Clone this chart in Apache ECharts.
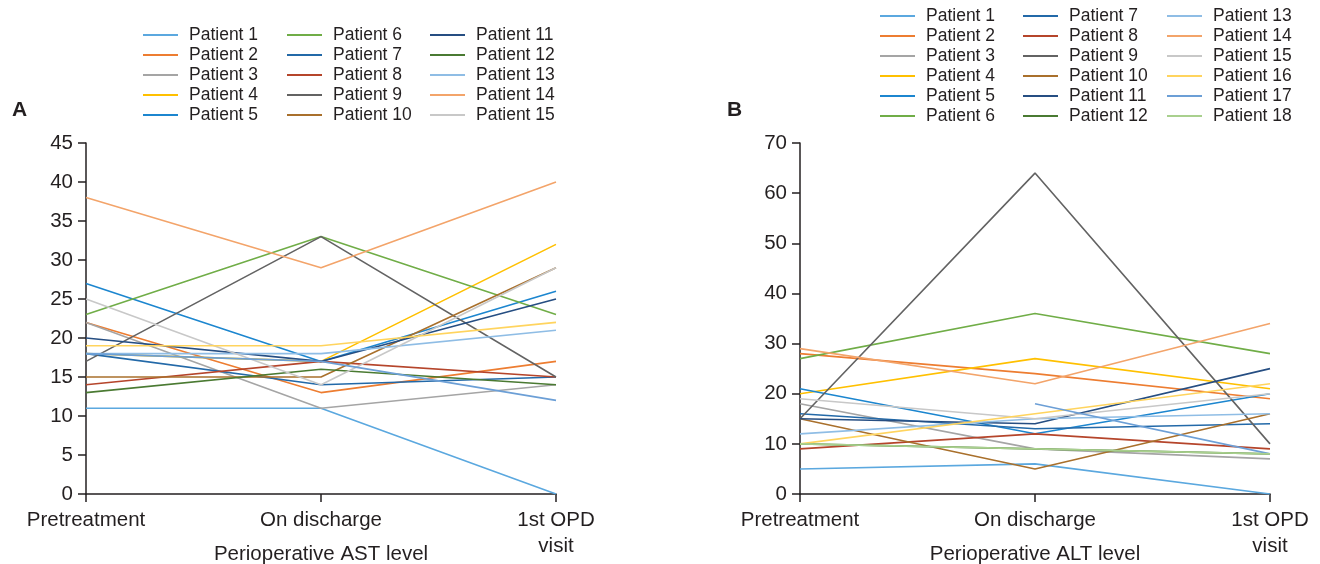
<!DOCTYPE html>
<html>
<head>
<meta charset="utf-8">
<script src="https://cdn.jsdelivr.net/npm/echarts@6/dist/echarts.min.js"></script>
<style>
html,body{margin:0;padding:0;background:#fff;}
#chart{width:1320px;height:564px;}
</style>
</head>
<body>
<div id="chart"></div>
<script>
const categories = ['Pretreatment', 'On discharge', '1st OPD\nvisit'];
const astTicks = [0, 5, 10, 15, 20, 25, 30, 35, 40, 45];
const altTicks = [0, 10, 20, 30, 40, 50, 60, 70];

const patientNames = ['Patient 1','Patient 2','Patient 3','Patient 4','Patient 5','Patient 6',
  'Patient 7','Patient 8','Patient 9','Patient 10','Patient 11','Patient 12',
  'Patient 13','Patient 14','Patient 15','Patient 16','Patient 17','Patient 18'];

const patientColors = ['#5BA8DF','#ED7D31','#A5A5A5','#FFC000','#1C86CF','#70AD47',
  '#2369A8','#B5452B','#636363','#A9702C','#264E82','#4A7A32',
  '#8FBDE5','#F3A46A','#C8C8C8','#FFD45E','#6C9FD6','#A9D08E'];

// Perioperative AST level (panel A)
const astValues = [
  [11, 11, 0],    // Patient 1
  [22, 13, 17],   // Patient 2
  [22, 11, 14],   // Patient 3
  [18, 17, 32],   // Patient 4
  [27, 17, 26],   // Patient 5
  [23, 33, 23],   // Patient 6
  [18, 14, 15],   // Patient 7
  [14, 17, 15],   // Patient 8
  [17, 33, 15],   // Patient 9
  [15, 15, 29],   // Patient 10
  [20, 17, 25],   // Patient 11
  [13, 16, 14],   // Patient 12
  [18, 18, 21],   // Patient 13
  [38, 29, 40],   // Patient 14
  [25, 14, 29],   // Patient 15
  [19, 19, 22],   // Patient 16 (not in legend)
  [18, 17, 12]    // Patient 17 (not in legend)
];
const astLegendCount = 15;

// Perioperative ALT level (panel B)
const altValues = [
  [5, 6, 0],      // Patient 1
  [28, 24, 19],   // Patient 2
  [18, 9, 7],     // Patient 3
  [20, 27, 21],   // Patient 4
  [21, 12, 20],   // Patient 5
  [27, 36, 28],   // Patient 6
  [16, 13, 14],   // Patient 7
  [9, 12, 9],     // Patient 8
  [15, 64, 10],   // Patient 9
  [15, 5, 16],    // Patient 10
  [15, 14, 25],   // Patient 11
  [10, 9, 8],     // Patient 12
  [12, 15, 16],   // Patient 13
  [29, 22, 34],   // Patient 14
  [19, 15, 20],   // Patient 15
  [10, 16, 22],   // Patient 16
  [null, 18, 8],  // Patient 17
  [10, 9, 8]      // Patient 18
];
const altLegendCount = 18;

const FONT = '"Liberation Sans", Arial, Helvetica, sans-serif';
const TXT = '#231f20';

function buildSeries(values, prefix, axisIndex) {
  return values.map((v, i) => ({
    id: prefix + i,
    name: patientNames[i],
    type: 'line',
    xAxisIndex: axisIndex,
    yAxisIndex: axisIndex,
    data: v,
    showSymbol: false,
    symbol: 'none',
    connectNulls: false,
    animation: false,
    lineStyle: { width: 1.6, color: patientColors[i] },
    itemStyle: { color: patientColors[i] },
    emphasis: { disabled: true }
  }));
}

function legendCol(names, left, top) {
  return {
    orient: 'vertical',
    left: left,
    top: top,
    padding: 0,
    itemGap: 0,
    itemWidth: 35,
    itemHeight: 2,
    icon: 'rect',
    selectedMode: false,
    data: names,
    textStyle: { fontFamily: FONT, fontSize: 17.5, color: TXT, lineHeight: 20, padding: [0, 0, 0, 6] }
  };
}

function xAx(gridIndex) {
  return {
    gridIndex: gridIndex,
    type: 'category',
    data: categories,
    boundaryGap: false,
    axisLine: { lineStyle: { color: TXT, width: 1.5 } },
    axisTick: { show: true, length: 8, lineStyle: { color: TXT, width: 1.5 } },
    axisLabel: { fontFamily: FONT, fontSize: 20.5, color: TXT, margin: 13, lineHeight: 26 },
    splitLine: { show: false },
    nameLocation: 'middle',
    nameGap: 50,
    nameMoveOverlap: false,
    nameTextStyle: { fontFamily: FONT, fontSize: 20.5, color: TXT }
  };
}

function yAx(gridIndex, ticks) {
  return {
    gridIndex: gridIndex,
    type: 'value',
    min: ticks[0],
    max: ticks[ticks.length - 1],
    interval: ticks[1] - ticks[0],
    axisLine: { show: true, lineStyle: { color: TXT, width: 1.5 } },
    axisTick: { show: true, length: 8, lineStyle: { color: TXT, width: 1.5 } },
    axisLabel: { fontFamily: FONT, fontSize: 20.5, color: TXT, margin: 13 },
    splitLine: { show: false }
  };
}

const astSeries = buildSeries(astValues, 'ast', 0);
const altSeries = buildSeries(altValues, 'alt', 1);

const astNames = patientNames.slice(0, astLegendCount);
const altNames = patientNames.slice(0, altLegendCount);

const xa0 = xAx(0); xa0.name = 'Perioperative AST level';
const xa1 = xAx(1); xa1.name = 'Perioperative ALT level';

const chart = echarts.init(document.getElementById('chart'), null, { renderer: 'canvas' });
chart.setOption({
  animation: false,
  backgroundColor: '#fff',
  title: [
    { text: 'A', left: 7, top: 95, textStyle: { fontFamily: FONT, fontSize: 21, fontWeight: 'bold', color: TXT } },
    { text: 'B', left: 722, top: 95, textStyle: { fontFamily: FONT, fontSize: 21, fontWeight: 'bold', color: TXT } }
  ],
  grid: [
    { left: 86, right: 764, top: 143, bottom: 70, containLabel: false, outerBoundsMode: 'none' },
    { left: 800, right: 50, top: 143, bottom: 70, containLabel: false, outerBoundsMode: 'none' }
  ],
  legend: [
    legendCol(astNames.slice(0, 5), 143, 25),
    legendCol(astNames.slice(5, 10), 287, 25),
    legendCol(astNames.slice(10, 15), 430, 25),
    legendCol(altNames.slice(0, 6), 880, 6),
    legendCol(altNames.slice(6, 12), 1023, 6),
    legendCol(altNames.slice(12, 18), 1167, 6)
  ],
  xAxis: [xa0, xa1],
  yAxis: [yAx(0, astTicks), yAx(1, altTicks)],
  series: astSeries.concat(altSeries)
});
</script>
</body>
</html>
